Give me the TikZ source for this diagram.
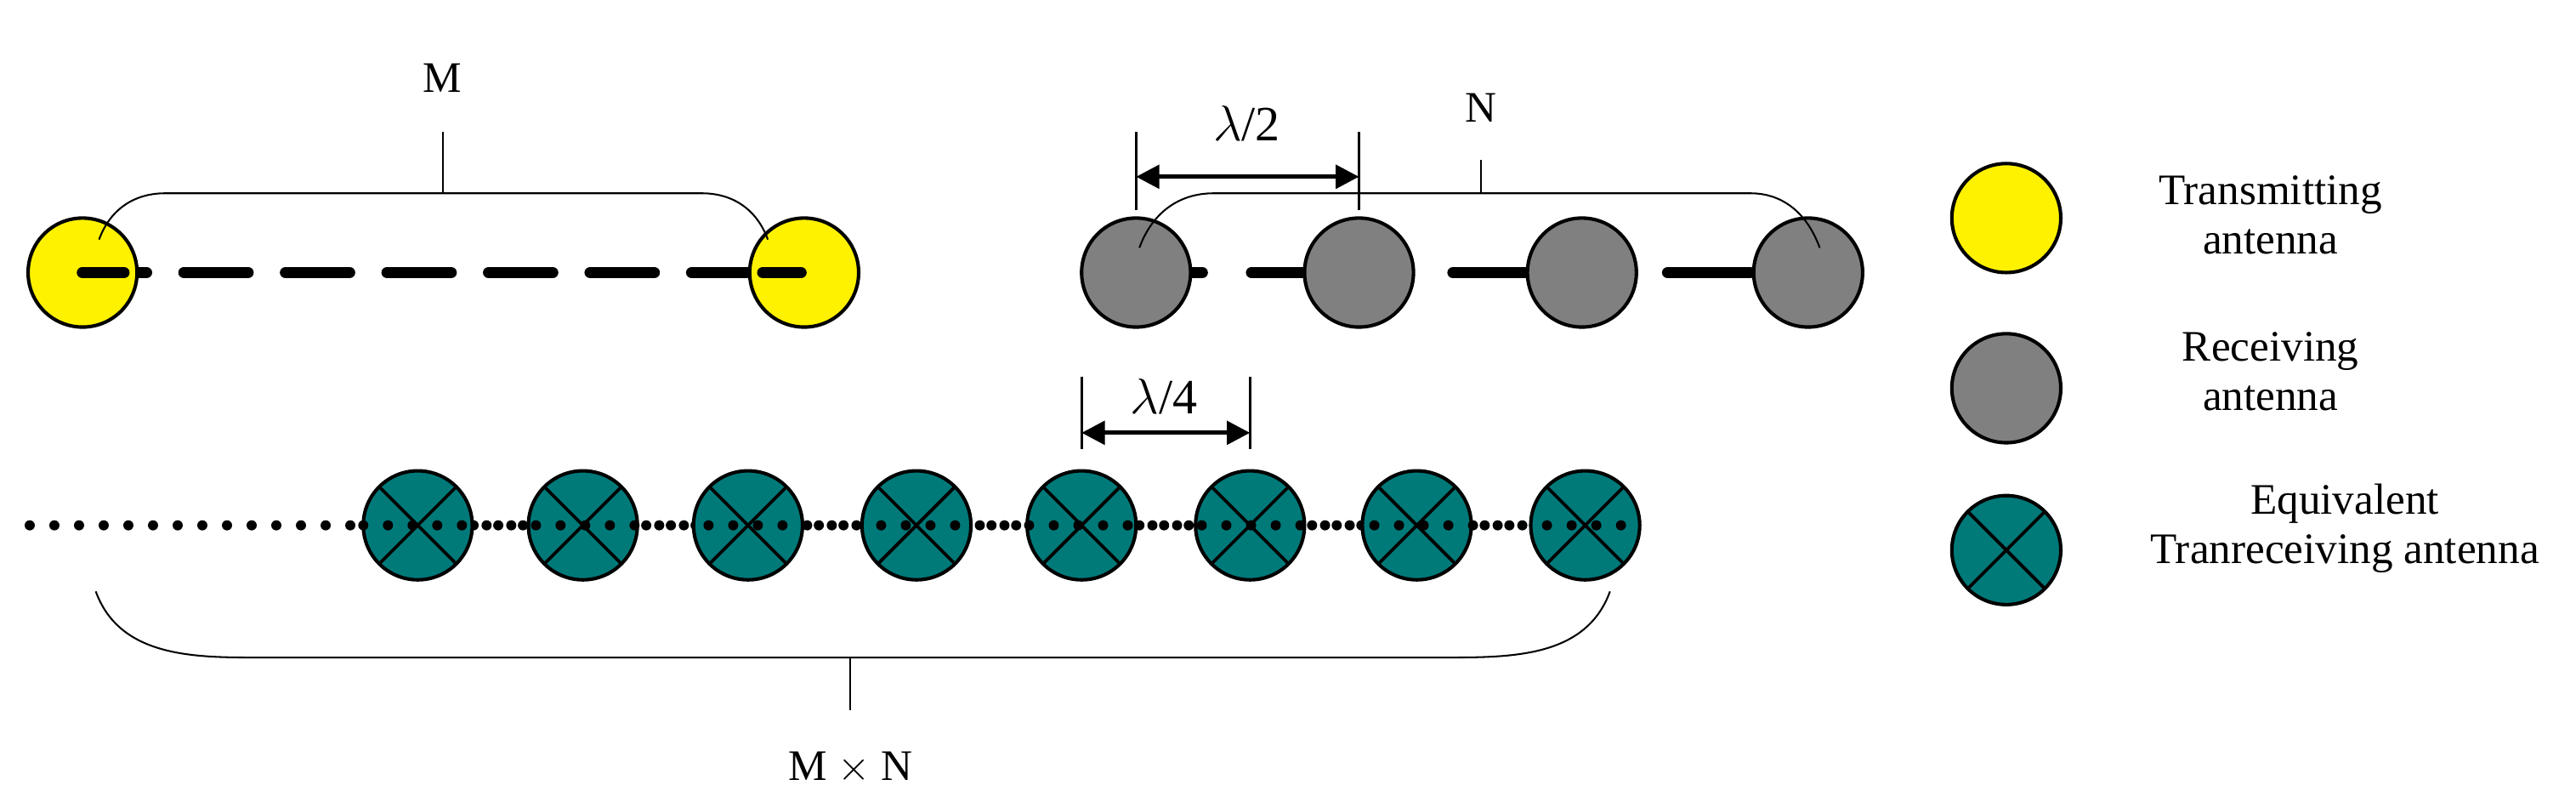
\documentclass[tikz,border=0pt]{standalone}
\usepackage{fontspec}
\setmainfont{Liberation Serif}
\usetikzlibrary{arrows.meta}
\begin{document}
\begin{tikzpicture}[x=0.02cm,y=-0.02cm,
  ant/.style={circle,draw=black,line width=1.2pt,minimum size=1.32cm,inner sep=0pt},
  tx/.style={ant,fill=yellow},
  rx/.style={ant,fill=gray},
  eq/.style={ant,fill=teal!95!black,path picture={\draw[line width=1.1pt] (path picture bounding box.north west)--(path picture bounding box.south east) (path picture bounding box.north east)--(path picture bounding box.south west);}},
  lbl/.style={font=\fontsize{15}{17}\selectfont,align=center},
  brace/.style={line width=0.6pt},
  dim/.style={line width=0.8pt},
  dimarrow/.style={line width=1.5pt,{Triangle[length=8pt,width=8pt]}-{Triangle[length=8pt,width=8pt]}}]
\useasboundingbox (0,0) rectangle (1560,489);
% transmitting
\draw[line width=4pt,dash pattern=on 22pt off 13pt,line cap=round] (50,165) -- (485,165);
\node[tx] (t1) at (50,165) {};
\node[tx] (t2) at (487,165) {};
\draw[line width=4pt,line cap=round] (50,165) -- (75,165);
\draw[line width=4pt,line cap=round] (462,165) -- (485,165);
\draw[brace] (60,145) to[out=70,in=180] (100,117) -- (425,117) to[out=0,in=110] (465,145);
\coordinate (mt) at (268,117);
\coordinate (mb) at (268,80);
\draw[brace] (mt) -- (mb);
\node[lbl] (M) at (268,47) {M};
% receiving
\draw[line width=4pt,line cap=round] (720,165) -- (728,165) (758,165) -- (790,165) (880,165) -- (925,165) (1010,165) -- (1060,165);
\node[rx] (r1) at (688,165) {};
\node[rx] (r2) at (823,165) {};
\node[rx] (r3) at (958,165) {};
\node[rx] (r4) at (1095,165) {};
\draw[brace] (690,150) to[out=70,in=180] (735,117) -- (1060,117) to[out=0,in=110] (1102,150);
\draw[brace] (897,117) -- (897,97);
\node[lbl] (N) at (897,65) {N};
\draw[dim] (688,80) -- (688,127) (823,80) -- (823,127);
\coordinate (a1) at (688,107);
\coordinate (a2) at (823,107);
\draw[dimarrow] (a1) -- (a2);
\node[lbl,font=\fontsize{17}{19}\selectfont] (l2) at (755,75) {$\lambda$/2};
% equivalent
\draw[line width=3.5pt,dash pattern=on 0pt off 8.5pt,line cap=round] (18,318) -- (990,318);
\foreach \i/\x in {1/253,2/353,3/453,4/555,5/655,6/757,7/858,8/960}{
  \node[eq] (e\i) at (\x,318) {};
}
\draw[line width=3.5pt,dash pattern=on 0pt off 8.5pt,line cap=round] (220,318) -- (990,318);
\draw[dim] (655,228) -- (655,272) (757,228) -- (757,272);
\coordinate (b1) at (655,262);
\coordinate (b2) at (757,262);
\draw[dimarrow] (b1) -- (b2);
\node[lbl,font=\fontsize{17}{19}\selectfont] (l4) at (705,240) {$\lambda$/4};
\draw[brace] (58,358) to[out=-70,in=180] (150,398) -- (880,398) to[out=0,in=-110] (975,358);
\draw[brace] (515,398) -- (515,430);
\node[lbl] (MN) at (515,465) {M $\times$ N};
% legend
\node[tx] (lt) at (1215,132) {};
\node[rx] (lr) at (1215,235) {};
\node[eq] (le) at (1215,333) {};
\node[lbl] at (1375,130) {Transmitting\\antenna};
\node[lbl] at (1375,225) {Receiving\\antenna};
\node[lbl] at (1420,320) {Equivalent\\Tranreceiving antenna};
\end{tikzpicture}
\end{document}
